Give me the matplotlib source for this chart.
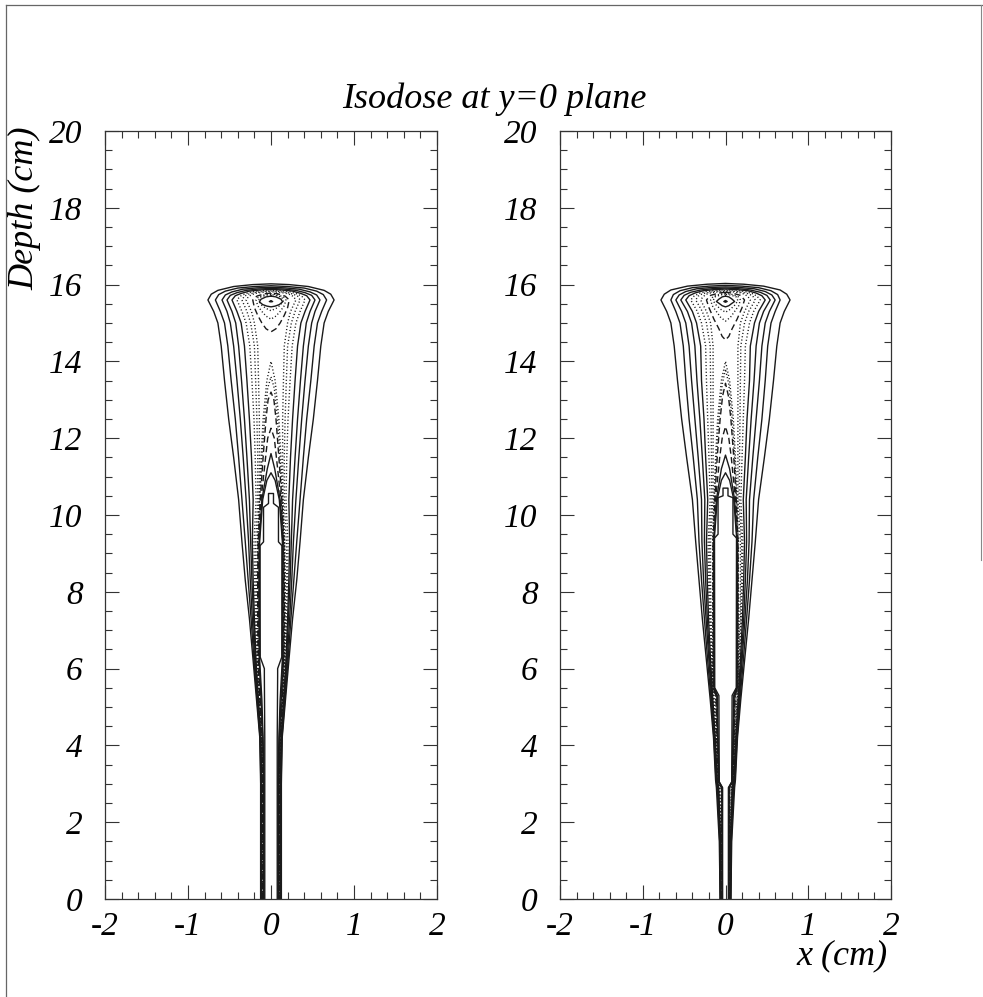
import numpy as np
import matplotlib.pyplot as plt

plt.rcParams['font.family'] = ['Liberation Serif', 'DejaVu Serif']
plt.rcParams['font.style'] = 'italic'
plt.rcParams['axes.unicode_minus'] = False

# ---------------- left panel ----------------
# depths (cm) where the outer isodose lines are sampled, below the peak width
z_out = [0.0, 3.0, 4.2, 5.2, 6.2, 7.3, 8.3, 9.3, 10.4, 11.5, 12.5, 13.5, 14.4, 15.0, 15.3, 15.6]

# half widths (cm) of the outer isodose lines, outermost first
left_outer = [
    [0.125, 0.125, 0.135, 0.175, 0.215, 0.26, 0.31, 0.35, 0.39, 0.45, 0.51, 0.56, 0.60, 0.64, 0.69, 0.76],
    [0.122, 0.122, 0.132, 0.168, 0.205, 0.24, 0.275, 0.31, 0.35, 0.39, 0.43, 0.48, 0.52, 0.56, 0.61, 0.67],
    [0.119, 0.119, 0.129, 0.162, 0.195, 0.225, 0.25, 0.27, 0.30, 0.335, 0.37, 0.41, 0.45, 0.49, 0.53, 0.59],
    [0.116, 0.116, 0.126, 0.157, 0.187, 0.21, 0.23, 0.245, 0.26, 0.29, 0.32, 0.355, 0.39, 0.425, 0.47, 0.53],
    [0.113, 0.113, 0.123, 0.152, 0.18, 0.20, 0.215, 0.225, 0.215, 0.235, 0.26, 0.29, 0.32, 0.36, 0.41, 0.47],
    [0.11, 0.11, 0.12, 0.148, 0.173, 0.19, 0.20, 0.205, 0.18, 0.19, 0.205, 0.23, 0.255, 0.30, 0.35, 0.41],
    [0.107, 0.107, 0.117, 0.144, 0.166, 0.18, 0.188, 0.185, 0.16, 0.16, 0.17, 0.185, 0.20, 0.245, 0.29, 0.35],
    [0.104, 0.104, 0.114, 0.14, 0.16, 0.17, 0.173, 0.165, 0.145, 0.14, 0.14, 0.15, 0.16, 0.20, 0.235, 0.30],
]
# rounded tops of the same lines, from the peak width up to the axis
left_cap_z = [
    [15.75, 15.85, 15.95, 16.0, 16.02],
    [15.74, 15.83, 15.91, 15.95, 15.97],
    [15.73, 15.81, 15.88, 15.915, 15.93],
    [15.72, 15.79, 15.85, 15.885, 15.90],
    [15.71, 15.77, 15.83, 15.86, 15.875],
    [15.70, 15.76, 15.81, 15.84, 15.855],
    [15.70, 15.75, 15.79, 15.82, 15.835],
    [15.69, 15.74, 15.78, 15.80, 15.815],
]
left_cap_w = [
    [0.72, 0.64, 0.45, 0.22, 0.0],
    [0.63, 0.55, 0.40, 0.20, 0.0],
    [0.55, 0.47, 0.34, 0.17, 0.0],
    [0.49, 0.41, 0.30, 0.15, 0.0],
    [0.43, 0.36, 0.26, 0.13, 0.0],
    [0.37, 0.31, 0.23, 0.12, 0.0],
    [0.32, 0.27, 0.20, 0.10, 0.0],
    [0.27, 0.23, 0.17, 0.09, 0.0],
]
left_outer_style = ['-', '-', '-', '-', '-', ':', ':', ':']

# closed loops around the dose maximum near 15.6 cm (top -> bottom)
left_peak_z = [
    [15.78, 15.76, 15.70, 15.60, 15.40, 15.20, 15.00, 14.85, 14.77],
    [15.76, 15.74, 15.68, 15.60, 15.45, 15.30, 15.18, 15.10],
    [15.74, 15.72, 15.67, 15.58, 15.46, 15.38, 15.32],
    [15.70, 15.68, 15.62, 15.55, 15.48, 15.44, 15.42],
    [15.57, 15.56, 15.55],
]
left_peak_w = [
    [0.0, 0.08, 0.17, 0.22, 0.20, 0.16, 0.11, 0.06, 0.0],
    [0.0, 0.07, 0.15, 0.18, 0.16, 0.11, 0.06, 0.0],
    [0.0, 0.06, 0.13, 0.15, 0.11, 0.06, 0.0],
    [0.0, 0.06, 0.12, 0.14, 0.10, 0.05, 0.0],
    [0.0, 0.02, 0.0],
]
left_peak_style = ['--', ':', ':', '-', '-']

# lines hugging the central channel, closing at an apex on the axis (bottom -> apex)
left_core_z = [
    [0, 3.0, 4.2, 5.2, 6.2, 7.3, 8.3, 9.3, 10.4, 11.5, 12.5, 13.5, 14.0],
    [0, 3.0, 4.2, 5.2, 6.2, 7.3, 8.3, 9.3, 10.4, 11.5, 12.5, 13.3, 13.6],
    [0, 3.0, 4.2, 5.2, 6.2, 7.3, 8.3, 9.3, 10.4, 11.5, 12.5, 13.0, 13.2],
    [0, 3.0, 4.2, 5.2, 6.2, 7.3, 8.3, 9.3, 10.4, 11.5, 12.0, 12.26],
    [0, 3.0, 4.2, 5.2, 6.2, 7.3, 8.3, 9.3, 10.4, 11.2, 11.6],
    [0, 3.0, 4.2, 5.2, 6.2, 7.3, 8.3, 9.3, 10.4, 10.9, 11.1],
    [0, 4.2, 5.8, 6.0, 6.3, 9.2, 9.3, 10.2, 10.3, 10.56, 10.56],
]
left_core_w = [
    [0.102, 0.102, 0.112, 0.138, 0.157, 0.165, 0.166, 0.16, 0.14, 0.12, 0.095, 0.05, 0.0],
    [0.101, 0.101, 0.111, 0.137, 0.156, 0.162, 0.163, 0.158, 0.135, 0.108, 0.078, 0.04, 0.0],
    [0.10, 0.10, 0.11, 0.135, 0.154, 0.16, 0.16, 0.155, 0.13, 0.095, 0.06, 0.035, 0.0],
    [0.095, 0.095, 0.105, 0.128, 0.148, 0.152, 0.152, 0.148, 0.12, 0.065, 0.04, 0.0],
    [0.09, 0.09, 0.10, 0.12, 0.142, 0.145, 0.145, 0.142, 0.11, 0.045, 0.0],
    [0.085, 0.085, 0.095, 0.11, 0.136, 0.139, 0.139, 0.137, 0.10, 0.05, 0.0],
    [0.075, 0.075, 0.08, 0.08, 0.13, 0.132, 0.09, 0.09, 0.03, 0.03, 0.0],
]
left_core_style = [':', ':', '--', '--', '-', '-', '-']

# ---------------- right panel ----------------
z_out_r = [0.0, 1.5, 2.9, 3.1, 4.2, 5.2, 6.2, 7.3, 8.3, 9.3, 10.4, 11.5, 12.5, 13.5, 14.4, 15.0, 15.3, 15.6]
right_outer = [
    [0.065, 0.075, 0.11, 0.12, 0.145, 0.185, 0.23, 0.28, 0.32, 0.36, 0.40, 0.47, 0.53, 0.58, 0.62, 0.66, 0.71, 0.78],
    [0.063, 0.07, 0.10, 0.115, 0.14, 0.175, 0.215, 0.255, 0.29, 0.32, 0.34, 0.39, 0.44, 0.48, 0.51, 0.55, 0.60, 0.66],
    [0.061, 0.066, 0.093, 0.11, 0.135, 0.167, 0.20, 0.235, 0.265, 0.285, 0.29, 0.33, 0.37, 0.41, 0.44, 0.48, 0.53, 0.60],
    [0.059, 0.063, 0.087, 0.105, 0.13, 0.16, 0.19, 0.22, 0.24, 0.255, 0.25, 0.28, 0.31, 0.345, 0.37, 0.41, 0.46, 0.54],
    [0.057, 0.06, 0.082, 0.10, 0.125, 0.153, 0.18, 0.205, 0.22, 0.23, 0.215, 0.24, 0.26, 0.29, 0.30, 0.35, 0.40, 0.48],
    [0.055, 0.058, 0.078, 0.097, 0.12, 0.147, 0.172, 0.193, 0.205, 0.21, 0.185, 0.20, 0.215, 0.23, 0.24, 0.29, 0.34, 0.42],
    [0.053, 0.056, 0.075, 0.094, 0.115, 0.142, 0.165, 0.183, 0.192, 0.195, 0.165, 0.17, 0.175, 0.18, 0.185, 0.23, 0.28, 0.36],
    [0.051, 0.054, 0.072, 0.091, 0.11, 0.137, 0.158, 0.174, 0.18, 0.18, 0.15, 0.15, 0.15, 0.15, 0.15, 0.18, 0.23, 0.30],
]
right_cap_z = [
    [15.75, 15.86, 15.96, 16.01, 16.03],
    [15.74, 15.84, 15.92, 15.96, 15.98],
    [15.73, 15.82, 15.89, 15.925, 15.94],
    [15.72, 15.80, 15.86, 15.895, 15.91],
    [15.71, 15.78, 15.84, 15.87, 15.885],
    [15.70, 15.77, 15.82, 15.85, 15.865],
    [15.70, 15.76, 15.80, 15.83, 15.845],
    [15.69, 15.75, 15.79, 15.81, 15.825],
]
right_cap_w = [
    [0.74, 0.66, 0.46, 0.22, 0.0],
    [0.63, 0.55, 0.40, 0.20, 0.0],
    [0.56, 0.48, 0.35, 0.17, 0.0],
    [0.50, 0.42, 0.30, 0.15, 0.0],
    [0.44, 0.37, 0.27, 0.13, 0.0],
    [0.38, 0.32, 0.23, 0.12, 0.0],
    [0.33, 0.28, 0.20, 0.10, 0.0],
    [0.27, 0.23, 0.17, 0.09, 0.0],
]
right_outer_style = ['-', '-', '-', '-', '-', ':', ':', ':']

right_peak_z = [
    [15.80, 15.78, 15.72, 15.60, 15.40, 15.10, 14.85, 14.65, 14.56],
    [15.77, 15.75, 15.69, 15.60, 15.45, 15.30, 15.15, 15.05],
    [15.75, 15.73, 15.68, 15.58, 15.46, 15.36, 15.28],
    [15.70, 15.68, 15.62, 15.56, 15.50, 15.45, 15.42],
    [15.58, 15.56, 15.54],
]
right_peak_w = [
    [0.0, 0.08, 0.18, 0.23, 0.20, 0.14, 0.08, 0.04, 0.0],
    [0.0, 0.07, 0.15, 0.18, 0.16, 0.11, 0.06, 0.0],
    [0.0, 0.06, 0.13, 0.15, 0.11, 0.06, 0.0],
    [0.0, 0.04, 0.08, 0.11, 0.07, 0.04, 0.0],
    [0.0, 0.02, 0.0],
]
right_peak_style = ['--', ':', ':', '-', '-']

right_core_z = [
    [0, 2.9, 3.05, 4.2, 5.3, 5.5, 7.3, 9.3, 10.4, 11.5, 12.5, 13.5, 14.0],
    [0, 2.9, 3.05, 4.2, 5.3, 5.5, 7.3, 9.3, 10.4, 11.5, 12.5, 13.4, 13.8],
    [0, 2.9, 3.05, 4.2, 5.3, 5.5, 7.3, 9.3, 10.4, 11.5, 12.5, 13.1, 13.43],
    [0, 2.9, 3.05, 4.2, 5.3, 5.5, 7.3, 9.3, 10.4, 11.5, 12.0, 12.3],
    [0, 2.9, 3.05, 4.2, 5.3, 5.5, 7.3, 9.3, 10.4, 11.2, 11.56],
    [0, 2.9, 3.05, 4.2, 5.3, 5.5, 7.3, 9.3, 10.4, 10.9, 11.1],
    [0, 2.9, 3.05, 5.3, 5.5, 9.4, 9.5, 10.45, 10.5, 10.7, 10.7],
]
right_core_w = [
    [0.049, 0.051, 0.089, 0.105, 0.12, 0.15, 0.155, 0.155, 0.14, 0.12, 0.095, 0.05, 0.0],
    [0.048, 0.05, 0.088, 0.104, 0.118, 0.149, 0.153, 0.153, 0.135, 0.11, 0.08, 0.04, 0.0],
    [0.047, 0.049, 0.087, 0.102, 0.115, 0.147, 0.15, 0.15, 0.13, 0.10, 0.065, 0.035, 0.0],
    [0.044, 0.046, 0.084, 0.098, 0.11, 0.143, 0.146, 0.146, 0.12, 0.07, 0.04, 0.0],
    [0.041, 0.043, 0.081, 0.094, 0.105, 0.139, 0.142, 0.142, 0.11, 0.05, 0.0],
    [0.038, 0.04, 0.078, 0.09, 0.10, 0.135, 0.138, 0.138, 0.10, 0.05, 0.0],
    [0.035, 0.035, 0.075, 0.08, 0.13, 0.133, 0.09, 0.09, 0.03, 0.03, 0.0],
]
right_core_style = [':', ':', '--', '--', '-', '-', '-']

x_ticks = [-2, -1, 0, 1, 2]
x_tick_labels = ['-2', '-1', '0', '1', '2']
y_ticks = [0, 2, 4, 6, 8, 10, 12, 14, 16, 18, 20]

LINE = '#1a1a1a'
STYLES = {'-': '-', ':': (0, (0.8, 1.6)), '--': (0, (4.5, 2.5))}


def mirrored(z, w):
    # left half given as half-widths, right half is its mirror image
    w = np.asarray(w, float)
    z = np.asarray(z, float)
    return np.concatenate([-w, w[::-1]]), np.concatenate([z, z[::-1]])


def draw_panel(ax, outer_z, outer, cap_z, cap_w, outer_style,
               peak_z, peak_w, peak_style, core_z, core_w, core_style):
    for w, cz, cw, st in zip(outer, cap_z, cap_w, outer_style):
        x, z = mirrored(list(outer_z) + cz, w + cw)
        ax.plot(x, z, color=LINE, lw=1.0, ls=STYLES[st])
    for z, w, st in zip(peak_z, peak_w, peak_style):
        x, zz = mirrored(z, w)
        ax.plot(x, zz, color=LINE, lw=1.0, ls=STYLES[st])
    for z, w, st in zip(core_z, core_w, core_style):
        x, zz = mirrored(z, w)
        ax.plot(x, zz, color=LINE, lw=1.0, ls=STYLES[st])

    ax.set_xlim(-2, 2)
    ax.set_ylim(0, 20)
    ax.set_xticks(x_ticks)
    ax.set_xticklabels(x_tick_labels)
    ax.set_xticks(np.arange(-2, 2.01, 0.2), minor=True)
    ax.set_yticks(y_ticks)
    ax.set_yticks(np.arange(0, 20.01, 0.5), minor=True)
    ax.tick_params(which='both', direction='in', top=True, right=True,
                   color='#333333', width=0.8, labelsize=24)
    ax.tick_params(which='major', length=10)
    ax.tick_params(which='minor', length=5)
    ax.tick_params(axis='x', pad=9)
    ax.tick_params(axis='y', pad=16)
    for s in ax.spines.values():
        s.set_linewidth(0.9)
        s.set_color('#333333')


fig = plt.figure(figsize=(9.83, 9.97), dpi=100)
W, H = 983.0, 997.0
ax1 = fig.add_axes([105 / W, 1 - 899 / H, 332 / W, 768 / H])
ax2 = fig.add_axes([560 / W, 1 - 899 / H, 331 / W, 768 / H])

draw_panel(ax1, z_out, left_outer, left_cap_z, left_cap_w, left_outer_style,
           left_peak_z, left_peak_w, left_peak_style,
           left_core_z, left_core_w, left_core_style)
draw_panel(ax2, z_out_r, right_outer, right_cap_z, right_cap_w, right_outer_style,
           right_peak_z, right_peak_w, right_peak_style,
           right_core_z, right_core_w, right_core_style)

fig.text(494 / W, 1 - 99 / H, 'Isodose at y=0 plane', ha='center', va='center', fontsize=26)
fig.text(25 / W, 1 - 126 / H, 'Depth (cm)', rotation=90, ha='center', va='top', fontsize=26)
fig.text(888 / W, 1 - 956 / H, 'x (cm)', ha='right', va='center', fontsize=26)

# page border
fig.add_artist(plt.Line2D([6 / W, 6 / W], [0, 1 - 5 / H], transform=fig.transFigure,
                          color='#666666', lw=0.9))
fig.add_artist(plt.Line2D([6 / W, 1], [1 - 5 / H, 1 - 5 / H], transform=fig.transFigure,
                          color='#666666', lw=0.9))
fig.add_artist(plt.Line2D([981 / W, 981 / W], [1 - 5 / H, 1 - 560 / H], transform=fig.transFigure,
                          color='#888888', lw=0.8))

fig.savefig('out.png', dpi=100)
